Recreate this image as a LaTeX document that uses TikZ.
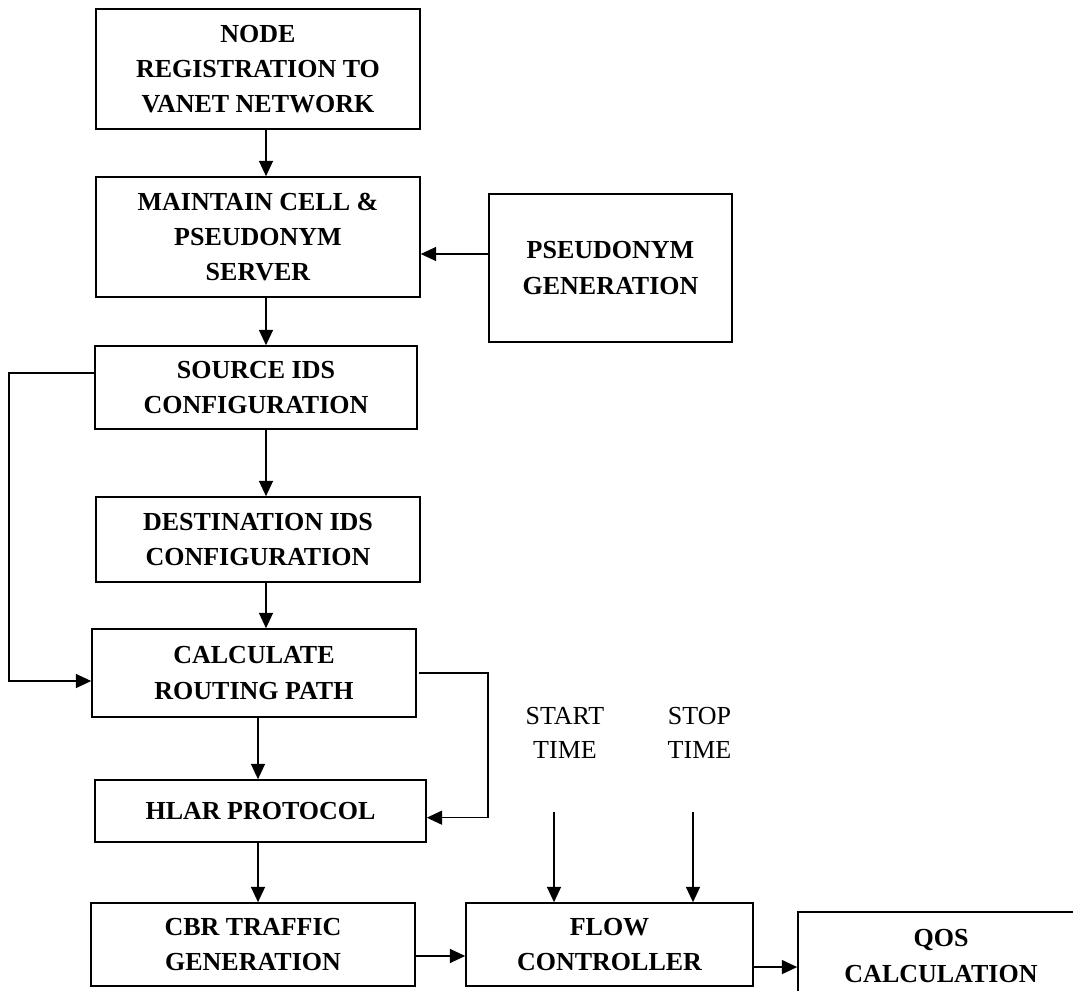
\documentclass[tikz,border=0pt]{standalone}
\usepackage{fontspec}
\setmainfont{Liberation Serif}
\usepackage{tikz}
\usetikzlibrary{arrows.meta}

\begin{document}
\begin{tikzpicture}[x=0.75pt,y=-0.75pt,
  box/.style n args={2}{draw,line width=1.2pt,align=center,inner sep=0pt,
    font=\fontsize{19.5}{26.5}\selectfont\bfseries,
    minimum width=#1,minimum height=#2},
  lbl/.style={align=center,inner sep=0pt,font=\fontsize{19.5}{25.5}\selectfont},
  arr/.style={line width=1.1pt,-{Triangle[length=11.5pt,width=10.5pt]}}]
\useasboundingbox (0,0) rectangle (1073,990);
\clip (0,0) rectangle (1073,990);
% boxes
\node[box={243pt}{90pt}] (reg) at (258,69) {NODE\\REGISTRATION TO\\VANET NETWORK};
\node[box={243pt}{90pt}] (maintain) at (258,237) {MAINTAIN CELL \&\\PSEUDONYM\\SERVER};
\node[box={182.25pt}{111pt}] (pseudo) at (610.5,268) {PSEUDONYM\\GENERATION};
\node[box={241.5pt}{62.25pt}] (source) at (256,387.5) {SOURCE IDS\\CONFIGURATION};
\node[box={243pt}{63.75pt}] (dest) at (258,539.5) {DESTINATION IDS\\CONFIGURATION};
\node[box={243pt}{66pt}] (calc) at (254,673) {CALCULATE\\ROUTING PATH};
\node[box={248.25pt}{46.5pt}] (hlar) at (260.5,811) {HLAR PROTOCOL};
\node[box={243pt}{62.25pt}] (cbr) at (253,944.5) {CBR TRAFFIC\\GENERATION};
\node[box={215.25pt}{62.25pt}] (flow) at (609.5,944.5) {FLOW\\CONTROLLER};
\node[box={214.5pt}{66pt}] (qos) at (941,956) {QOS\\CALCULATION};
\node[lbl] (start) at (565,733) {START\\TIME};
\node[lbl] (stop) at (699.5,733) {STOP\\TIME};
% helper points
\coordinate (c1) at (266,0);
\coordinate (c2) at (258,0);
\coordinate (lx) at (9,0);
\coordinate (rx) at (488,0);
\coordinate (startin) at (554,812);
\coordinate (stopin) at (693,812);
% connectors
\foreach \a/\b in %
{reg/maintain,maintain/source,source/dest,dest/calc} {
   \draw[arr] (\a.south -| c1) -- (\b.north -| c1);
}
\foreach \a/\b in %
{calc/hlar,hlar/cbr} {
   \draw[arr] (\a.south -| c2) -- (\b.north -| c2);
}
\draw[arr] ([yshift=10.5pt]pseudo.west) -- ([yshift=10.5pt]pseudo.west -| maintain.east);
\draw[arr] ([yshift=10.9pt]source.west) -| ([yshift=-6pt]calc.west -| lx) -- ([yshift=-6pt]calc.west);
\draw[arr] ([xshift=2pt]calc.east) -| ([yshift=-5pt]hlar.east -| rx) -- ([yshift=-5pt]hlar.east);
\draw[arr] (startin) -- (startin |- flow.north);
\draw[arr] (stopin) -- (stopin |- flow.north);
\draw[arr] ([yshift=-8.6pt]cbr.east) -- ([yshift=-8.6pt]cbr.east -| flow.west);
\draw[arr] ([yshift=-16.9pt]flow.east) -- ([yshift=-16.9pt]flow.east -| qos.west);
\end{tikzpicture}
\end{document}
